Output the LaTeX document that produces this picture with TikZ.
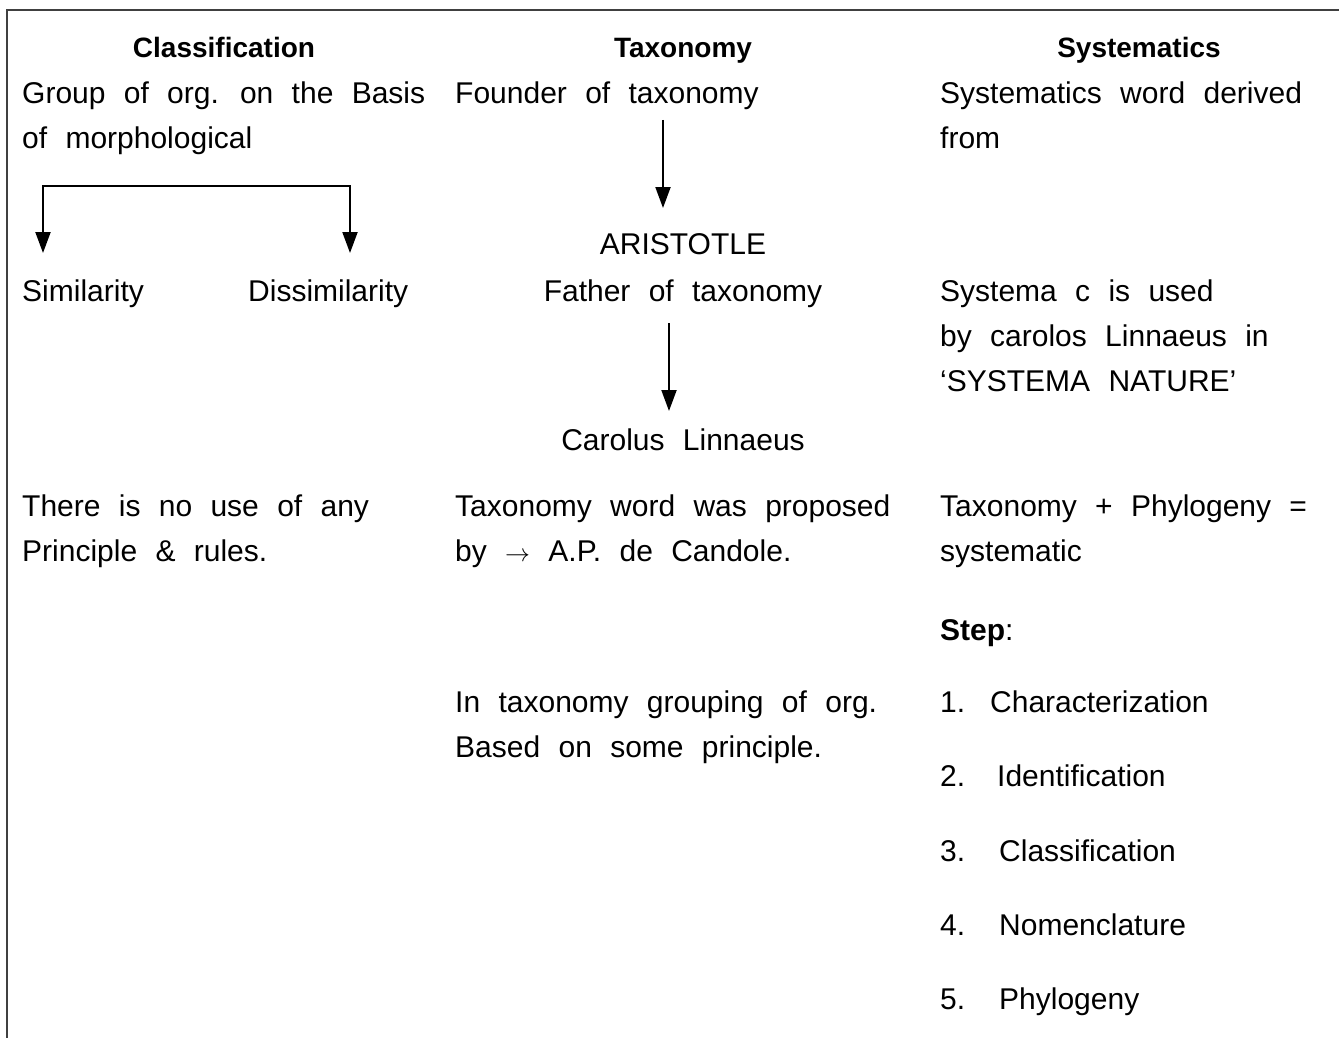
\documentclass[tikz,border=0pt]{standalone}
\usepackage{fontspec}
\setmainfont{Liberation Sans}[WordSpace=2.2]
\usetikzlibrary{arrows.meta}
\begin{document}
\begin{tikzpicture}[x=1pt,y=-1pt,
  txt/.style={inner sep=0pt,anchor=base west,font={\fontsize{30}{36}\selectfont}},
  ctxt/.style={txt,anchor=base},
  head/.style={inner sep=0pt,anchor=base,font={\fontsize{28}{34}\selectfont\bfseries}},
  arr/.style={line width=2pt,-{Triangle[length=21pt,width=15pt]}},
  frame/.style={line width=1.6pt,draw=black!75}]
\useasboundingbox (0,0) rectangle (1339,1038);
\draw[frame] (7,1038) -- (7,10) -- (1339,10);

% headings
\node[head] (h1) at (224,58) {Classification};
\node[head] (h2) at (683,58) {Taxonomy};
\node[head] (h3) at (1139,58) {Systematics};

% column 1
\node[txt] (c1a) at (22,104) {Group of org. on the Basis};
\node[txt] (c1b) at (22,149) {of morphological};
\coordinate (brC) at (196,186);
\coordinate (simA) at (43,253);
\coordinate (disA) at (350,253);
\draw[arr] (brC) -| (simA);
\draw[arr] (brC) -| (disA);
\node[txt] (sim) at (22,301) {Similarity};
\node[txt] (dis) at (248,301) {Dissimilarity};
\node[txt] (c1c) at (22,516) {There is no use of any};
\node[txt] (c1d) at (22,561) {Principle \& rules.};

% column 2
\node[txt] (c2a) at (455,104) {Founder of taxonomy};
\coordinate (a1s) at (663,120);
\coordinate (a1e) at (663,208);
\draw[arr] (a1s) -- (a1e);
\node[ctxt] (ari) at (683,254) {ARISTOTLE};
\node[ctxt] (fat) at (683,301) {Father of taxonomy};
\coordinate (a2s) at (669,323);
\coordinate (a2e) at (669,411);
\draw[arr] (a2s) -- (a2e);
\node[ctxt] (car) at (683,450) {Carolus Linnaeus};
\node[txt] (c2b) at (455,516) {Taxonomy word was proposed};
\node[txt] (c2c) at (455,561) {by $\rightarrow$ A.P. de Candole.};
\node[txt] (c2d) at (455,712) {In taxonomy grouping of org.};
\node[txt] (c2e) at (455,757) {Based on some principle.};

% column 3
\node[txt] (c3a) at (940,104) {Systematics word derived};
\node[txt] (c3b) at (940,149) {from};
\node[txt] (c3c) at (940,301) {Systema c is used};
\node[txt] (c3d) at (940,346) {by carolos Linnaeus in};
\node[txt] (c3e) at (940,391) {`SYSTEMA NATURE'};
\node[txt] (c3f) at (940,516) {Taxonomy + Phylogeny =};
\node[txt] (c3g) at (940,561) {systematic};
\node[txt] (step) at (940,640) {\bfseries Step\mdseries:};
\node[txt] (n1) at (940,712) {1.};
\node[txt] (s1) at (990,712) {Characterization};
\node[txt] (n2) at (940,786) {2.};
\node[txt] (s2) at (997,786) {Identification};
\node[txt] (n3) at (940,861) {3.};
\node[txt] (s3) at (999,861) {Classification};
\node[txt] (n4) at (940,935) {4.};
\node[txt] (s4) at (999,935) {Nomenclature};
\node[txt] (n5) at (940,1009) {5.};
\node[txt] (s5) at (999,1009) {Phylogeny};
\end{tikzpicture}
\end{document}
